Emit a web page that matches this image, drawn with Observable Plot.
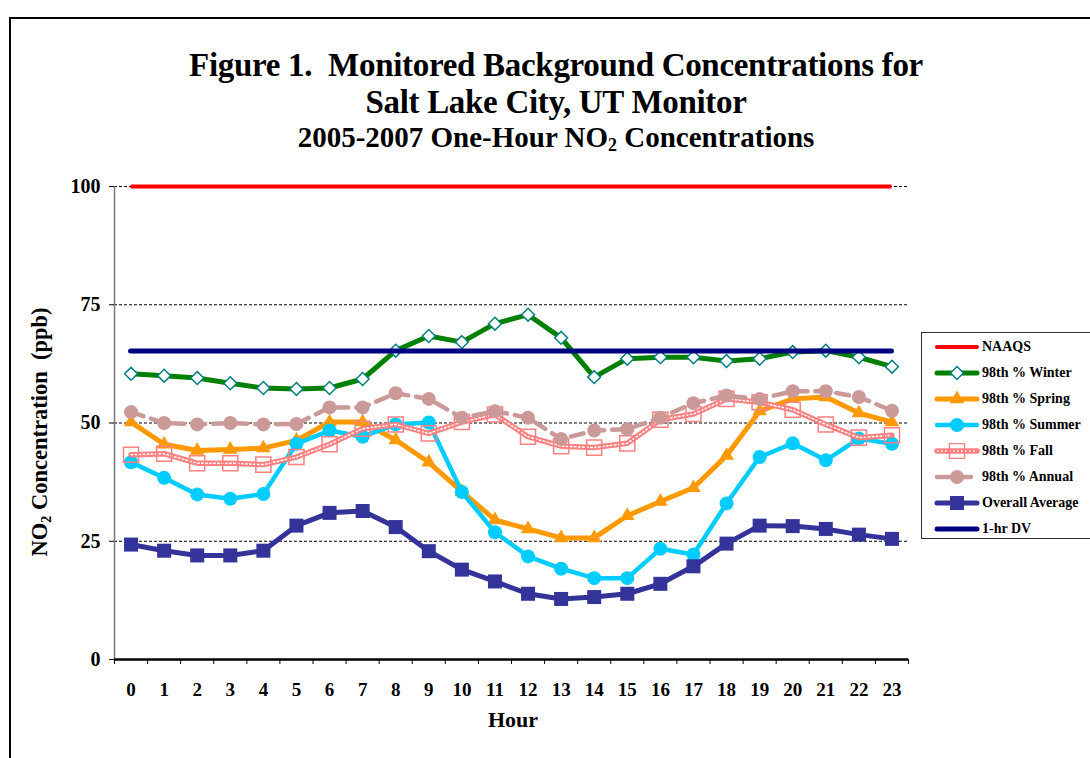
<!DOCTYPE html>
<html>
<head>
<meta charset="utf-8">
<script src="https://cdn.jsdelivr.net/npm/d3@7"></script>
<script src="https://cdn.jsdelivr.net/npm/@observablehq/plot@0.6"></script>
<style>
  html, body { margin: 0; padding: 0; background: #fff; }
  #wrap { position: relative; width: 1090px; height: 758px; overflow: hidden; font-family: "Liberation Serif", "Times New Roman", serif; font-weight: bold; color: #000; }
  #frame { position: absolute; left: 9px; top: 17px; width: 1200px; height: 900px; border-left: 2px solid #000; border-top: 2px solid #000; }
  .t { position: absolute; left: 0; width: 1112px; text-align: center; white-space: nowrap; }
  #t1 { top: 47px; font-size: 33px; letter-spacing: -0.3px; }
  #t2 { top: 84px; font-size: 33px; letter-spacing: -0.3px; }
  #t3 { top: 121px; font-size: 29px; letter-spacing: 0px; }
  #ylab { position: absolute; left: 41px; top: 432px; transform: translate(-50%, -50%) rotate(-90deg); font-size: 22.5px; white-space: nowrap; }
  #xlab { position: absolute; left: 513px; top: 707px; transform: translateX(-50%); font-size: 22px; }
  #chart { position: absolute; left: 0; top: 0; }
  #legend { position: absolute; left: 921px; top: 332px; width: 180px; height: 205px; border: 1.5px solid #333; background: #fff; }
  .li { position: absolute; left: 12px; height: 16px; display: flex; align-items: center; font-size: 14px; white-space: nowrap; }
  .li svg { margin-right: 2px; }
  sub { font-size: 0.62em; vertical-align: -0.25em; }
</style>
</head>
<body>
<div id="wrap">
  <div id="frame"></div>
  <div id="chart"></div>
  <div class="t" id="t1">Figure 1.&nbsp; Monitored Background Concentrations for</div>
  <div class="t" id="t2">Salt Lake City, UT Monitor</div>
  <div class="t" id="t3">2005-2007 One-Hour NO<sub>2</sub> Concentrations</div>
  <div id="ylab">NO<sub>2</sub> Concentration&nbsp; (ppb)</div>
  <div id="xlab">Hour</div>
  <div id="legend"></div>
</div>
<script>
// ---- data ----
const hours = [0,1,2,3,4,5,6,7,8,9,10,11,12,13,14,15,16,17,18,19,20,21,22,23];
const yTicks = [0, 25, 50, 75, 100];
const naaqs = 100;
const dv = 65.2;
const winter  = [60.4, 60.0, 59.5, 58.4, 57.4, 57.2, 57.4, 59.3, 65.3, 68.4, 67.1, 71.0, 72.9, 68.0, 59.7, 63.6, 63.9, 63.9, 63.1, 63.6, 65.0, 65.3, 63.9, 61.9];
const spring  = [50.2, 45.5, 44.2, 44.4, 44.7, 46.3, 50.2, 50.2, 46.4, 41.7, 35.5, 29.5, 27.6, 25.7, 25.7, 30.4, 33.4, 36.3, 43.1, 52.5, 55.1, 55.5, 52.1, 50.2];
const summer  = [41.7, 38.4, 34.9, 34.0, 35.0, 45.6, 48.4, 47.1, 49.7, 50.1, 35.4, 26.9, 21.8, 19.2, 17.2, 17.2, 23.4, 22.2, 33.0, 42.8, 45.7, 42.1, 46.7, 45.6];
const fall    = [43.3, 43.5, 41.5, 41.5, 41.2, 42.8, 45.5, 48.8, 49.7, 47.8, 50.2, 51.8, 47.1, 45.1, 44.8, 45.7, 50.7, 51.9, 55.1, 54.4, 52.8, 49.7, 46.9, 47.4];
const annual  = [52.3, 50.0, 49.7, 50.0, 49.7, 49.8, 53.3, 53.3, 56.3, 55.1, 51.1, 52.5, 51.1, 46.6, 48.4, 48.7, 51.1, 54.2, 55.8, 55.1, 56.7, 56.7, 55.5, 52.6];
const average = [24.3, 23.0, 22.0, 22.0, 23.0, 28.3, 31.0, 31.4, 28.0, 22.9, 19.0, 16.5, 13.9, 12.8, 13.2, 13.9, 16.0, 19.7, 24.5, 28.3, 28.2, 27.6, 26.4, 25.5];
const seriesNames = ["NAAQS", "98th % Winter", "98th % Spring", "98th % Summer", "98th % Fall", "98th % Annual", "Overall  Average", "1-hr DV"];

// ---- styles ----
const C = {
  naaqs: "#ff0000", winter: "#008000", winterMk: "#008080", spring: "#ff9900",
  summer: "#00ccff", fall: "#ff8080", annual: "#cc9999", avg: "#333399", dv: "#000080"
};
const rows = (arr) => hours.map((h, i) => ({hour: h, value: arr[i]}));
const series = (arr, lineOpts, dotOpts) => [
  Plot.line(rows(arr), {x: "hour", y: "value", strokeLinejoin: "round", ...lineOpts}),
  ...(dotOpts ? [Plot.dot(rows(arr), {x: "hour", y: "value", ...dotOpts})] : [])
];

const chart = Plot.plot({
  width: 1090, height: 758,
  marginLeft: 114, marginRight: 182, marginTop: 186, marginBottom: 99,
  style: {fontFamily: "Liberation Serif, serif", background: "transparent", overflow: "visible"},
  x: {domain: [-0.5, 23.5], axis: null},
  y: {domain: [0, 100], axis: null},
  marks: [
    Plot.gridY(yTicks.filter(d => d > 0), {stroke: "#000", strokeOpacity: 1, strokeWidth: 1, strokeDasharray: "3,2"}),
    Plot.ruleX([-0.5], {stroke: "#777", strokeWidth: 1.5}),
    Plot.axisY(yTicks, {anchor: "left", tickSize: 5, tickPadding: 9, fontSize: 20, fontWeight: "bold", label: null, tickFormat: d => String(d)}),
    Plot.axisX(hours, {anchor: "bottom", tickSize: 0, tickPadding: 23, fontSize: 19, fontWeight: "bold", label: null, tickFormat: d => String(d)}),
    Plot.axisX(d3.range(-0.5, 24, 1), {anchor: "bottom", tickSize: 5, label: null, tickFormat: () => ""}),
    Plot.ruleY([naaqs], {x1: hours[0], x2: hours[hours.length - 1], stroke: C.naaqs, strokeWidth: 4}),
    ...series(winter, {stroke: C.winter, strokeWidth: 5}, {symbol: "diamond2", r: 5.8, stroke: C.winterMk, strokeWidth: 1.5, fill: "white"}),
    ...series(spring, {stroke: C.spring, strokeWidth: 5}, {symbol: "triangle", r: 5.4, fill: C.spring}),
    ...series(summer, {stroke: C.summer, strokeWidth: 4.5}, {symbol: "circle", r: 7, fill: C.summer}),
    ...series(fall, {stroke: C.fall, strokeWidth: 5.5}, null),
    Plot.line(rows(fall), {x: "hour", y: "value", stroke: "white", strokeWidth: 1.5, strokeDasharray: "1.5,2.5", strokeLinejoin: "round"}),
    Plot.dot(rows(fall), {x: "hour", y: "value", symbol: "square2", r: 9.6, stroke: C.fall, strokeWidth: 1.5, fill: "none"}),
    ...series(annual, {stroke: C.annual, strokeWidth: 4.5, strokeDasharray: "13,8"}, {symbol: "circle", r: 7, fill: C.annual}),
    ...series(average, {stroke: C.avg, strokeWidth: 5}, {symbol: "square", r: 7.9, fill: C.avg}),
    Plot.ruleY([dv], {x1: hours[0], x2: hours[hours.length - 1], stroke: C.dv, strokeWidth: 5, strokeLinecap: "round"}),
    Plot.ruleY([0], {stroke: "#000", strokeWidth: 2.5})
  ]
});
document.getElementById("chart").appendChild(chart);

// ---- legend ----
const legendSpec = [
  {line: {stroke: C.naaqs, w: 4}},
  {line: {stroke: C.winter, w: 5}, mk: {type: d3.symbolDiamond2, r: 5.8, fill: "white", stroke: C.winterMk, sw: 1.5}},
  {line: {stroke: C.spring, w: 5}, mk: {type: d3.symbolTriangle, r: 5.4, fill: C.spring}},
  {line: {stroke: C.summer, w: 4.5}, mk: {type: d3.symbolCircle, r: 7, fill: C.summer}},
  {line: {stroke: C.fall, w: 5.5}, dots: true, mk: {type: d3.symbolSquare2, r: 9.6, fill: "none", stroke: C.fall, sw: 1.5}},
  {line: {stroke: C.annual, w: 4.5, dash: "13,8"}, mk: {type: d3.symbolCircle, r: 7, fill: C.annual}},
  {line: {stroke: C.avg, w: 5}, mk: {type: d3.symbolSquare, r: 7.9, fill: C.avg}},
  {line: {stroke: C.dv, w: 5}}
];
const leg = d3.select("#legend");
seriesNames.forEach((name, i) => {
  const s = legendSpec[i];
  const item = leg.append("div").attr("class", "li").style("top", (6 + i * 26) + "px");
  const svg = item.append("svg").attr("width", 46).attr("height", 16);
  svg.append("line").attr("x1", 3).attr("x2", 43).attr("y1", 8).attr("y2", 8)
    .attr("stroke", s.line.stroke).attr("stroke-width", s.line.w).attr("stroke-linecap", "round")
    .attr("stroke-dasharray", s.line.dash || null);
  if (s.dots) svg.append("line").attr("x1", 3).attr("x2", 43).attr("y1", 8).attr("y2", 8)
    .attr("stroke", "white").attr("stroke-width", 1.5).attr("stroke-dasharray", "1.5,2.5");
  if (s.mk) svg.append("path").attr("transform", "translate(23,8)")
    .attr("d", d3.symbol(s.mk.type, s.mk.r * s.mk.r * Math.PI)())
    .attr("fill", s.mk.fill).attr("stroke", s.mk.stroke || "none").attr("stroke-width", s.mk.sw || 0);
  item.append("span").text(name);
});
</script>
</body>
</html>
